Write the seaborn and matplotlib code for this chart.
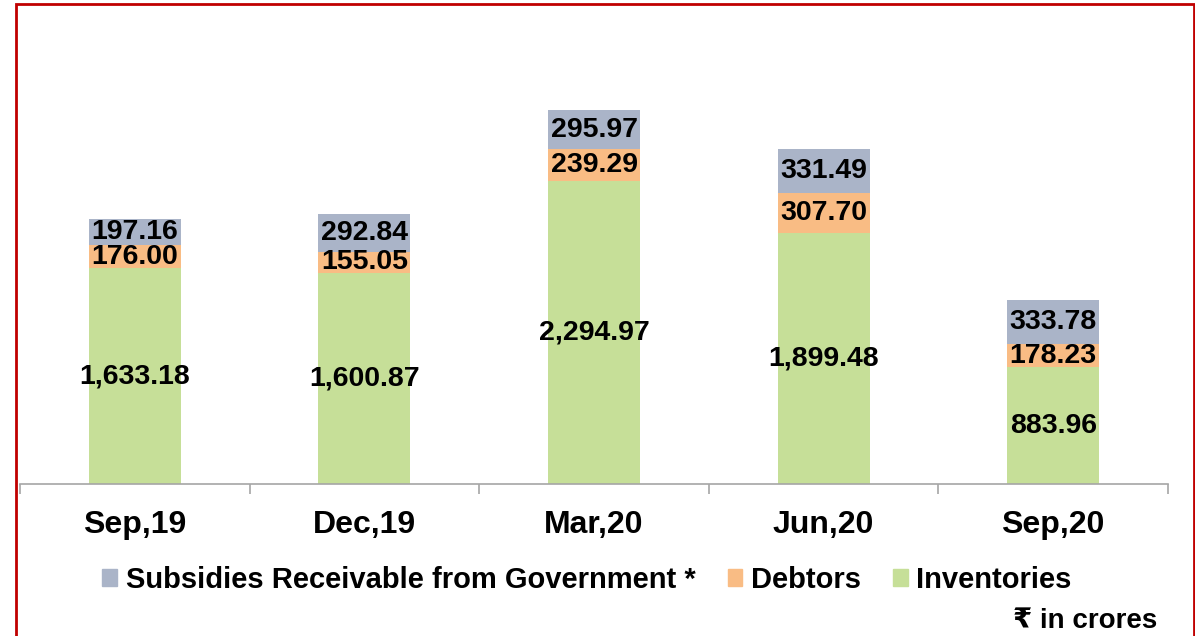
import matplotlib
matplotlib.use("Agg")
import matplotlib.pyplot as plt
import seaborn as sns
from matplotlib.patches import Patch, Rectangle

# data (Rs in crores)
quarters = ["Sep,19", "Dec,19", "Mar,20", "Jun,20", "Sep,20"]
inventories = [1633.18, 1600.87, 2294.97, 1899.48, 883.96]
debtors = [176.00, 155.05, 239.29, 307.70, 178.23]
subsidies = [197.16, 292.84, 295.97, 331.49, 333.78]

c_inv = "#C6DF98"
c_debt = "#F9BC84"
c_sub = "#AAB4C8"

sns.set_theme(style="white")
plt.rcParams["font.family"] = ["Liberation Sans", "DejaVu Sans"]
plt.rcParams["text.color"] = "black"
plt.rcParams["xtick.color"] = "black"

fig = plt.figure(figsize=(11.95, 6.36), dpi=100)
ax = fig.add_axes([20 / 1195, 152 / 636, 1148 / 1195, 462 / 636])

# stacked bars, bottom to top
bottom2 = [a + b for a, b in zip(inventories, debtors)]
bar_kw = dict(width=0.4, saturation=1, linewidth=0, ax=ax)
sns.barplot(x=quarters, y=inventories, color=c_inv, **bar_kw)
sns.barplot(x=quarters, y=debtors, bottom=inventories, color=c_debt, **bar_kw)
sns.barplot(x=quarters, y=subsidies, bottom=bottom2, color=c_sub, **bar_kw)

# segment labels
for i in range(len(quarters)):
    for val, base in [(inventories[i], 0), (debtors[i], inventories[i]), (subsidies[i], bottom2[i])]:
        ax.text(i, base + val / 2, f"{val:,.2f}", ha="center", va="center",
                fontsize=20.5, fontweight="bold", color="black")

ax.set_xlim(-0.5, 4.5)
ax.set_ylim(0, 3500)
ax.set_yticks([])
ax.set_ylabel("")
for s in ["top", "left", "right"]:
    ax.spines[s].set_visible(False)
ax.spines["bottom"].set_color("#A6A6A6")
ax.spines["bottom"].set_linewidth(1.2)

ax.set_xticks(range(len(quarters)))
ax.set_xticklabels(quarters, fontsize=23, fontweight="bold", color="black")
ax.tick_params(axis="x", which="major", length=0, pad=19)
ax.set_xticks([i - 0.5 for i in range(len(quarters) + 1)], minor=True)
ax.tick_params(axis="x", which="minor", length=7, width=1.2, color="#A6A6A6", direction="out")
ax.tick_params(axis="x", which="minor", bottom=True)

# legend
handles = [Patch(color=c_sub, label="Subsidies Receivable from Government *"),
           Patch(color=c_debt, label="Debtors"),
           Patch(color=c_inv, label="Inventories")]
fig.legend(handles=handles, loc="center", bbox_to_anchor=(587 / 1195, 1 - 580 / 636), ncol=3,
           frameon=False, prop={"weight": "bold", "size": 21}, handlelength=0.5,
           handleheight=0.5, handletextpad=0.3, columnspacing=1.1)

fig.text(1157 / 1195, 2 / 636, "₹ in crores", ha="right", va="bottom",
         fontsize=20, fontweight="bold", color="black")

# red frame
fig.patches.append(Rectangle((16 / 1195, -0.1), (1194 - 16) / 1195, 1.1 - 4 / 636,
                             transform=fig.transFigure, fill=False, edgecolor="#C00000",
                             linewidth=2))

fig.savefig("out.png", dpi=100)
